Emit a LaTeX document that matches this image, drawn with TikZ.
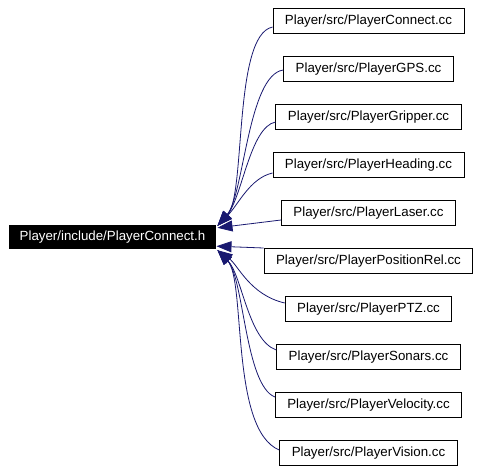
\documentclass[tikz,border=0pt]{standalone}
\usepackage{fontspec}
\setmainfont{Liberation Sans}
\usetikzlibrary{arrows.meta}
\definecolor{edgeblue}{RGB}{25,25,112}
\begin{document}
\begin{tikzpicture}[x=1pt,y=-1pt,
  filebox/.style={draw=black,line width=0.9pt,fill=white,inner xsep=12pt,inner ysep=0pt,
    minimum height=25pt,text height=10pt,text depth=3pt,
    font=\fontsize{13.3}{15}\selectfont},
  mainbox/.style={fill=black,text=white,inner xsep=11pt,inner ysep=0pt,
    minimum height=24pt,text height=10pt,text depth=3pt,
    font=\fontsize{13.3}{15}\selectfont},
  dep/.style={draw=edgeblue,line width=0.8pt,-{Triangle[length=15pt,width=11pt]}}]
\useasboundingbox (0,0) rectangle (479,471);
\node[mainbox] (main) at (112.5,237) {Player/include/PlayerConnect.h};
\node[filebox] (n1) at (368.5,20.5) {Player/src/PlayerConnect.cc};
\node[filebox] (n2) at (368.5,68.5) {Player/src/PlayerGPS.cc};
\node[filebox] (n3) at (368.5,116.5) {Player/src/PlayerGripper.cc};
\node[filebox] (n4) at (368.5,164.5) {Player/src/PlayerHeading.cc};
\node[filebox] (n5) at (368.5,212.5) {Player/src/PlayerLaser.cc};
\node[filebox] (n6) at (368.5,260.5) {Player/src/PlayerPositionRel.cc};
\node[filebox] (n7) at (368.5,308.5) {Player/src/PlayerPTZ.cc};
\node[filebox] (n8) at (368.5,356.5) {Player/src/PlayerSonars.cc};
\node[filebox] (n9) at (368.5,404.5) {Player/src/PlayerVelocity.cc};
\node[filebox] (n10) at (368.5,452.5) {Player/src/PlayerVision.cc};
\coordinate (mt) at ([shift={(1,1)}]main.north east);
\coordinate (ml) at ([shift={(1,3)}]main.north east);
\coordinate (mp) at ([shift={(0,-3)}]main.south east);
\coordinate (mb) at ([shift={(1,1)}]main.south east);
\draw[dep] ([yshift=-6.5pt]n1.west) .. controls (233,35) and (246,195) .. (mt);
\draw[dep] ([yshift=-1.5pt]n2.west) .. controls (248,75) and (244,195) .. (mt);
\draw[dep] ([yshift=-5.5pt]n3.west) .. controls (250,127) and (242,198) .. (mt);
\draw[dep] ([yshift=-8.5pt]n4.west) .. controls (250,178) and (238,205) .. (mt);
\draw[dep] ([yshift=-7.5pt]n5.west) -- (ml);
\draw[dep] ([yshift=12.5pt]n6.west) -- (mp);
\draw[dep] ([yshift=5.5pt]n7.west) .. controls (250,295) and (238,265) .. (mb);
\draw[dep] ([yshift=6.5pt]n8.west) .. controls (248,340) and (242,275) .. (mb);
\draw[dep] ([yshift=7.5pt]n9.west) .. controls (245,385) and (244,278) .. (mb);
\draw[dep] ([yshift=2.5pt]n10.west) .. controls (230,430) and (246,280) .. (mb);
\end{tikzpicture}
\end{document}
